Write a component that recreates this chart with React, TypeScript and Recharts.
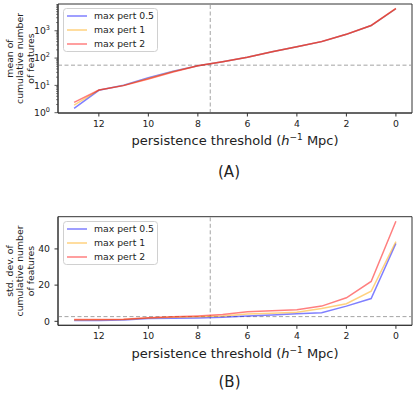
import { LineChart, Line, XAxis, YAxis, ReferenceLine, ReferenceArea } from "recharts";

// persistence thresholds (h^-1 Mpc), plotted right-to-left
const thresholds = [13, 12, 11, 10, 9, 8, 7, 6, 5, 4, 3, 2, 1, 0];
const seriesNames = ["max pert 0.5", "max pert 1", "max pert 2"];
const seriesColors = ["#0000ff", "#ffa500", "#ff0000"];

// (A) mean of cumulative number of features
const meanPert05 = [1.45, 6.6, 10.2, 19, 33, 52, 74, 107, 170, 260, 400, 740, 1550, 6400];
const meanPert1 = [1.9, 6.7, 10, 18, 32, 52, 74, 107, 170, 260, 400, 740, 1550, 6500];
const meanPert2 = [2.4, 6.8, 9.8, 17, 31, 52, 74, 108, 172, 262, 405, 750, 1560, 6600];

// (B) std. dev. of cumulative number of features
const stdPert05 = [0.5, 0.5, 0.7, 1.5, 1.7, 1.9, 2.3, 2.9, 3.5, 4.2, 4.7, 8.4, 12.6, 43];
const stdPert1 = [0.7, 0.8, 1.0, 1.8, 2.2, 2.5, 3.0, 4.0, 4.5, 5.0, 7.1, 9.7, 16.6, 44];
const stdPert2 = [1.0, 1.0, 1.2, 2.0, 2.5, 3.0, 3.8, 5.3, 5.8, 6.4, 8.4, 13, 22, 55.3];

const xTicks = [0, 2, 4, 6, 8, 10, 12];
const xDomain: [number, number] = [-0.65, 13.65];
const meanTicks = [
  1, 2, 3, 4, 5, 6, 7, 8, 9,
  10, 20, 30, 40, 50, 60, 70, 80, 90,
  100, 200, 300, 400, 500, 600, 700, 800, 900,
  1000, 2000, 3000, 4000, 5000, 6000, 7000, 8000, 9000,
];
const stdTicks = [0, 20, 40];
const thresholdCut = 7.5;
const meanCut = 55;
const stdCut = 2.6;

const FONT = "DejaVu Sans";
const AXIS = "#333";
const PLOT_LEFT = 58;

const meanData = thresholds.map((x, i) => ({
  x,
  s0: meanPert05[i],
  s1: meanPert1[i],
  s2: meanPert2[i],
}));
const stdData = thresholds.map((x, i) => ({
  x,
  s0: stdPert05[i],
  s1: stdPert1[i],
  s2: stdPert2[i],
}));

const LogTick = (props: any) => {
  const { x, y, payload } = props;
  const lg = Math.log10(payload.value);
  const exp = Math.round(lg);
  const major = Math.abs(lg - exp) < 1e-6;
  return (
    <g>
      <line
        x1={PLOT_LEFT}
        x2={PLOT_LEFT - (major ? 3.5 : 2)}
        y1={y}
        y2={y}
        stroke={AXIS}
        strokeWidth={major ? 0.8 : 0.6}
      />
      {major && (
        <text x={x} y={y} dy={3.3} textAnchor="end" fontSize={9.3} fontFamily={FONT} fill="#222">
          10<tspan dy={-4} fontSize={6.5}>{exp}</tspan>
        </text>
      )}
    </g>
  );
};

// legend drawn as svg so both panels render the same way
function LegendBox({ top }: { top: number }) {
  return (
    <g>
      <rect
        x={63.5}
        y={top + 0.5}
        width={94}
        height={43}
        rx={3}
        fill="#fff"
        fillOpacity={0.85}
        stroke="#d0d0d0"
        strokeWidth={1}
      />
      {seriesNames.map((n, i) => (
        <g key={n}>
          <line
            x1={67}
            x2={87}
            y1={top + 8 + i * 14}
            y2={top + 8 + i * 14}
            stroke={seriesColors[i]}
            strokeOpacity={0.5}
            strokeWidth={1.5}
          />
          <text x={94} y={top + 11.3 + i * 14} fontSize={9.3} fontFamily={FONT} fill="#222">
            {n}
          </text>
        </g>
      ))}
    </g>
  );
}

function Panel(props: {
  data: any[];
  top: number;
  height: number;
  marginTop: number;
  marginBottom: number;
  log?: boolean;
  domain: [number, number];
  ticks: number[];
  cut: number;
}) {
  const { data, top, height, marginTop, marginBottom, log, domain, ticks, cut } = props;
  return (
    <div style={{ position: "absolute", left: 0, top }}>
      <LineChart
        width={415}
        height={height}
        data={data}
        margin={{ top: marginTop, right: 3, bottom: marginBottom, left: 0 }}
      >
        <XAxis
          dataKey="x"
          type="number"
          reversed
          domain={xDomain}
          allowDataOverflow
          ticks={xTicks}
          height={20}
          tickSize={3.5}
          tickMargin={4}
          stroke={AXIS}
          tick={{ fontSize: 9.3, fontFamily: FONT, fill: "#222" }}
        />
        {log ? (
          <YAxis
            scale="log"
            type="number"
            domain={domain}
            allowDataOverflow
            ticks={ticks}
            interval={0}
            width={58}
            tickSize={3.5}
            tickMargin={4.5}
            tickLine={false}
            stroke={AXIS}
            tick={LogTick}
          />
        ) : (
          <YAxis
            type="number"
            domain={domain}
            allowDataOverflow
            ticks={ticks}
            width={58}
            tickSize={3.5}
            tickMargin={4.5}
            stroke={AXIS}
            tick={{ fontSize: 9.3, fontFamily: FONT, fill: "#222" }}
          />
        )}
        <ReferenceArea
          x1={xDomain[0]}
          x2={xDomain[1]}
          y1={domain[0]}
          y2={domain[1]}
          fill="none"
          stroke={AXIS}
          strokeWidth={1}
        />
        <ReferenceLine x={thresholdCut} stroke="#999" strokeDasharray="4 2.5" strokeWidth={0.9} />
        <ReferenceLine y={cut} stroke="#999" strokeDasharray="4 2.5" strokeWidth={0.9} />
        {["s0", "s1", "s2"].map((k, i) => (
          <Line
            key={k}
            dataKey={k}
            name={seriesNames[i]}
            stroke={seriesColors[i]}
            strokeOpacity={0.5}
            strokeWidth={1.5}
            dot={false}
            isAnimationActive={false}
          />
        ))}
      </LineChart>
    </div>
  );
}

function YLabel({ lines, cy }: { lines: string[]; cy: number }) {
  return (
    <text
      transform={`translate(12.5, ${cy}) rotate(-90)`}
      textAnchor="middle"
      fontSize={9.3}
      fontFamily={FONT}
      fill="#222"
    >
      {lines.map((l, i) => (
        <tspan key={i} x={0} y={i * 10.5}>
          {l}
        </tspan>
      ))}
    </text>
  );
}

function XLabel({ y }: { y: number }) {
  return (
    <text x={235} y={y} textAnchor="middle" fontSize={13} fontFamily={FONT} fill="#222">
      persistence threshold (<tspan fontStyle="italic">h</tspan>
      <tspan dy={-5} fontSize={9}>−1</tspan>
      <tspan dy={5}> Mpc)</tspan>
    </text>
  );
}

export default function App() {
  return (
    <div style={{ position: "absolute", left: 0, top: 0, width: 415, height: 394, background: "#fff" }}>
      <Panel
        data={meanData}
        top={0}
        height={200}
        marginTop={4}
        marginBottom={67}
        log
        domain={[0.975, 9550]}
        ticks={meanTicks}
        cut={meanCut}
      />
      <Panel
        data={stdData}
        top={200}
        height={194}
        marginTop={16.7}
        marginBottom={48.7}
        domain={[-2.2, 57.8]}
        ticks={stdTicks}
        cut={stdCut}
      />
      <svg
        width={415}
        height={394}
        style={{ position: "absolute", left: 0, top: 0, pointerEvents: "none" }}
      >
        <LegendBox top={8} />
        <LegendBox top={221} />
        <YLabel lines={["mean of", "cumulative number", "of features"]} cy={58.5} />
        <YLabel lines={["std. dev. of", "cumulative number", "of features"]} cy={271} />
        <XLabel y={145} />
        <XLabel y={357.5} />
        <text x={229} y={177} textAnchor="middle" fontSize={15} fontFamily={FONT} fill="#222">
          (A)
        </text>
        <text x={229.5} y={387} textAnchor="middle" fontSize={15} fontFamily={FONT} fill="#222">
          (B)
        </text>
      </svg>
    </div>
  );
}
